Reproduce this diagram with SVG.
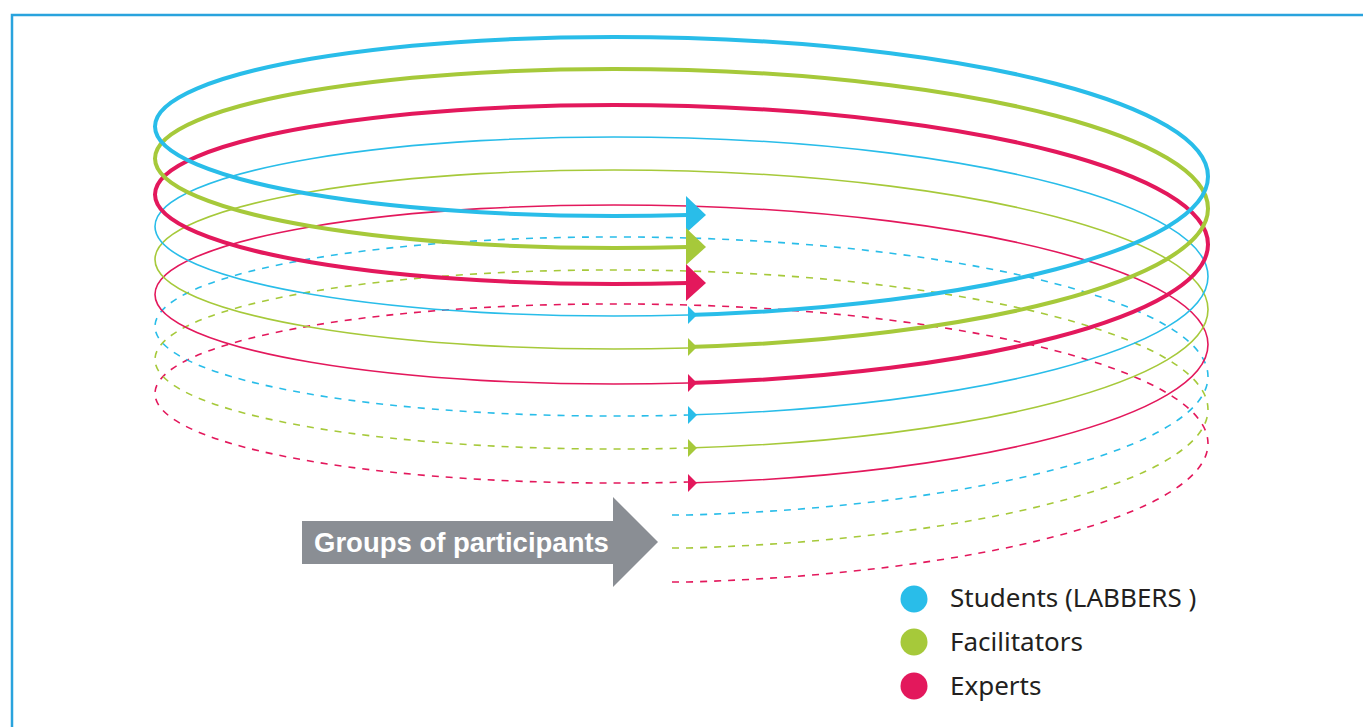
<svg xmlns="http://www.w3.org/2000/svg" xmlns:xlink="http://www.w3.org/1999/xlink" width="1363" height="727" viewBox="0 0 1363 727">
<style>
.b{stroke:#29bde9}.g{stroke:#a6c93a}.p{stroke:#e3185c}
.bf{fill:#29bde9}.gf{fill:#a6c93a}.pf{fill:#e3185c}
.thick{fill:none;stroke-width:4}
.thin{fill:none;stroke-width:1.6}
.dash{fill:none;stroke-width:1.6;stroke-dasharray:7 7}
.leg{font-family:"Noto Sans","Liberation Sans",sans-serif;font-size:26px;fill:#231f20}
</style>
<defs>
<path id="loop" d="M688 0 C975.2 -8.33 1208 -67.48 1208 -138.5 C1208 -209.52 975.2 -268.67 688 -277 C393.6 -285.33 155 -242.86 155 -188.5 C155 -134.14 393.6 -91.67 688 -100"/>
<path id="loopD" d="M672 0 L688 0 C975.2 -8.33 1208 -67.48 1208 -138.5 C1208 -209.52 975.2 -268.67 688 -277 C393.6 -285.33 155 -242.86 155 -188.5 C155 -134.14 393.6 -91.67 688 -100"/>
<polygon id="ahBig" points="-2,-19 18,0 -2,18"/>
<polygon id="ahSmall" points="0,-9 9,0 0,9"/>
</defs>
<rect width="1363" height="727" fill="#ffffff"/>
<path d="M12 727 V15 H1363" fill="none" stroke="#29a3dd" stroke-width="2.5"/>
<g id="connectors">
<use xlink:href="#loopD" transform="translate(0,582)" class="dash p"/>
<use xlink:href="#loopD" transform="translate(0,548)" class="dash g"/>
<use xlink:href="#loopD" transform="translate(0,515)" class="dash b"/>
<use xlink:href="#loop" transform="translate(0,483)" class="thin p"/>
<use xlink:href="#loop" transform="translate(0,448)" class="thin g"/>
<use xlink:href="#loop" transform="translate(0,415)" class="thin b"/>
<use xlink:href="#loop" transform="translate(0,383)" class="thick p"/>
<use xlink:href="#loop" transform="translate(0,347)" class="thick g"/>
<use xlink:href="#loop" transform="translate(0,315)" class="thick b"/>
<use xlink:href="#ahBig" x="688" y="215" class="bf"/>
<use xlink:href="#ahBig" x="688" y="247" class="gf"/>
<use xlink:href="#ahBig" x="688" y="283" class="pf"/>
<use xlink:href="#ahSmall" x="688" y="315" class="bf"/>
<use xlink:href="#ahSmall" x="688" y="347" class="gf"/>
<use xlink:href="#ahSmall" x="688" y="383" class="pf"/>
<use xlink:href="#ahSmall" x="688" y="415" class="bf"/>
<use xlink:href="#ahSmall" x="688" y="448" class="gf"/>
<use xlink:href="#ahSmall" x="688" y="483" class="pf"/>
</g>
<g id="groups-arrow">
<polygon points="302,521 613,521 613,497 658,542 613,587 613,564 302,564" fill="#8a8e94"/>
<text x="314" y="552" font-family="'Liberation Sans',Arial,sans-serif" font-weight="bold" font-size="27.5" fill="#ffffff">Groups of participants</text>
</g>
<g id="legend-students">
<circle cx="914" cy="599" r="13.5" class="bf"/>
<text x="950" y="607" class="leg">Students (LABBERS )</text>
</g>
<g id="legend-facilitators">
<circle cx="914" cy="642" r="13.5" class="gf"/>
<text x="950" y="651" class="leg">Facilitators</text>
</g>
<g id="legend-experts">
<circle cx="914" cy="686" r="13.5" class="pf"/>
<text x="950" y="695" class="leg">Experts</text>
</g>
</svg>
